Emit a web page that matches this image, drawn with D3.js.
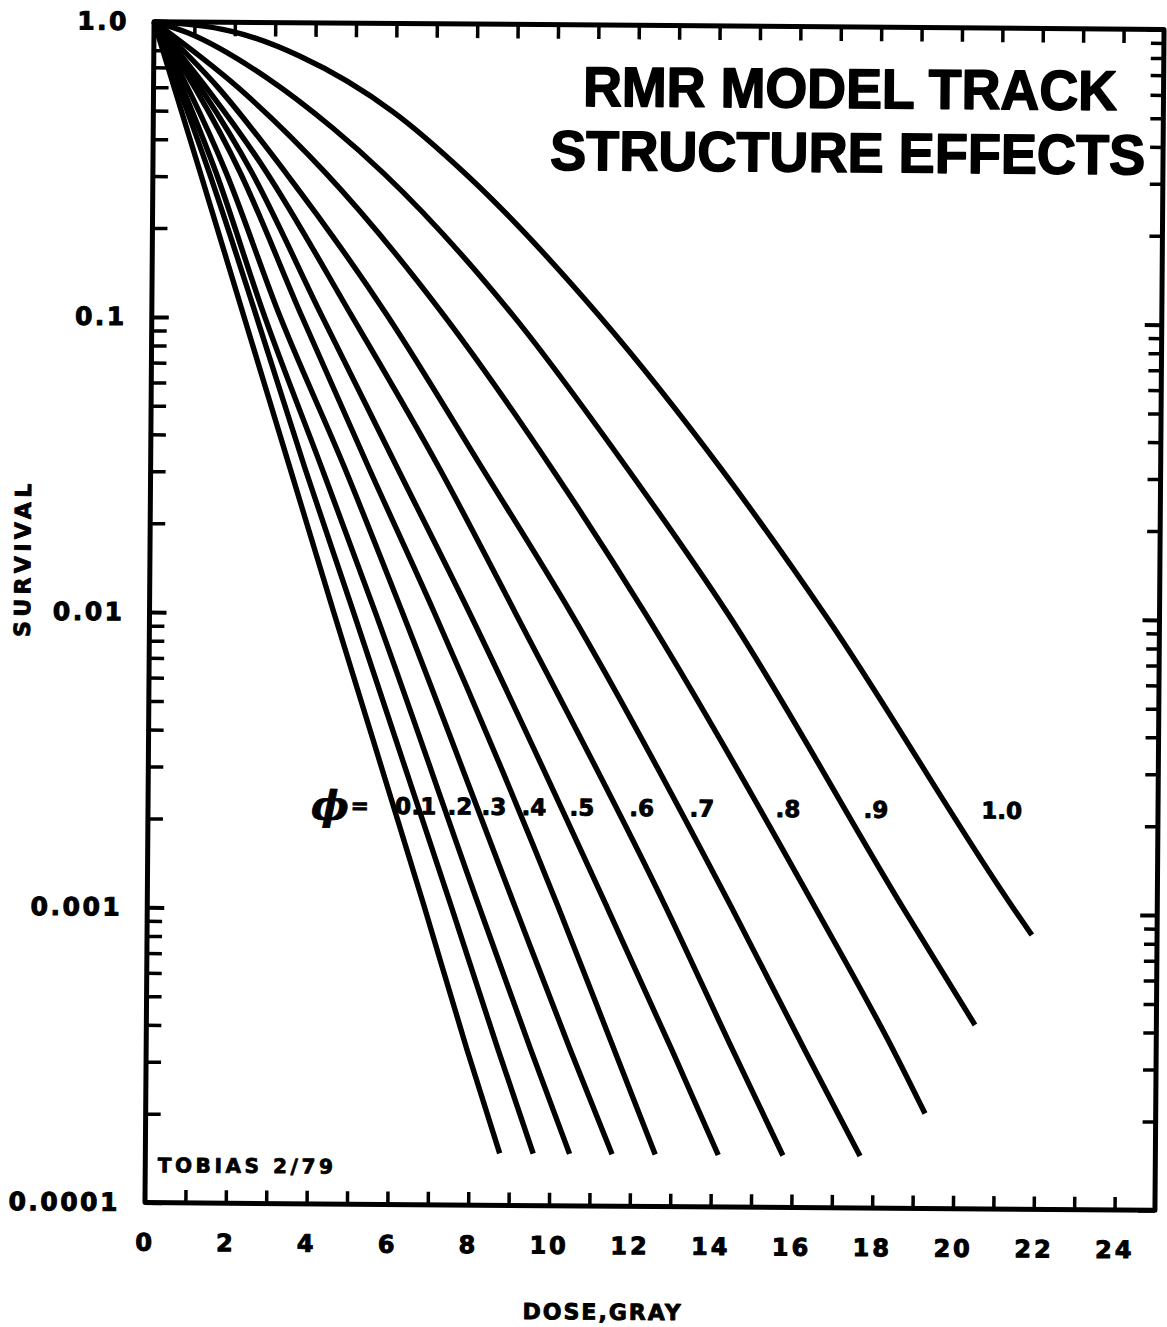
<!DOCTYPE html>
<html>
<head>
<meta charset="utf-8">
<script src="https://cdn.jsdelivr.net/npm/d3@7"></script>
<style>
  body { margin: 0; background: #fff; }
  svg { display: block; }
</style>
</head>
<body>
<svg id="chart" width="1167" height="1327"></svg>
<script>
// Survival curves, [dose in Gy, surviving fraction], one array per phi value
const phi00 = [[0,1],[1.17,0.31],[2.26,0.103],[3.45,0.031],[4.55,0.0102],[6.85,0.00103],[7.93,3.4e-4],[8.77,1.5e-4]];
const phi01 = [[0,1],[1.39,0.31],[2.57,0.103],[3.82,0.031],[5.04,0.0102],[7.52,0.00103],[8.70,3.4e-4],[9.60,1.5e-4]];
const phi02 = [[0,1],[1.56,0.31],[2.77,0.103],[4.24,0.031],[5.58,0.0102],[8.21,0.00103],[9.51,3.4e-4],[10.50,1.5e-4]];
const phi03 = [[0,1],[1.81,0.31],[3.15,0.103],[4.81,0.031],[6.25,0.0102],[9.10,0.00103],[10.49,3.4e-4],[11.55,1.5e-4]];
const phi04 = [[0,1],[2.16,0.31],[3.69,0.103],[5.41,0.031],[7.04,0.0102],[10.17,0.00103],[11.58,3.4e-4],[12.62,1.5e-4]];
const phi05 = [[0,1],[2.45,0.31],[4.19,0.103],[6.12,0.031],[7.91,0.0102],[11.38,0.00103],[13.01,3.4e-4],[14.18,1.5e-4]];
const phi06 = [[0,1],[2.82,0.31],[4.93,0.103],[7.16,0.031],[9.05,0.0102],[12.84,0.00103],[14.52,3.4e-4],[15.78,1.5e-4]];
const phi07 = [[0,1],[1.6,0.6],[3.29,0.31],[5.82,0.103],[8.23,0.031],[10.43,0.0102],[14.47,0.00103],[16.31,3.4e-4],[17.69,1.5e-4]];
const phi08 = [[0,1],[2.1,0.6],[4.28,0.31],[7.23,0.103],[9.96,0.031],[12.27,0.0102],[16.55,0.00103],[18.51,3.4e-4],[19.29,2.1e-4]];
const phi09 = [[0,1],[0.82,0.92],[2.80,0.65],[4.45,0.44],[5.72,0.31],[8.95,0.103],[11.84,0.031],[14.32,0.0102],[18.73,0.00103],[20.51,4.2e-4]];
const phi10 = [[0,1],[1.95,0.93],[3.62,0.77],[5.95,0.50],[7.75,0.31],[11.09,0.103],[14.17,0.031],[16.72,0.0102],[21.43,0.00105],[21.9,8.5e-4]];

const curveSeries = [phi00, phi01, phi02, phi03, phi04, phi05, phi06, phi07, phi08, phi09, phi10];

// Curve labels and the dose at which each one sits along the label row
const phiLabels = ["0", ".1", ".2", ".3", ".4", ".5", ".6", ".7", ".8", ".9", "1.0"];
const phiLabelDose = [6.31, 6.83, 7.72, 8.56, 9.55, 10.74, 12.22, 13.71, 15.84, 18.02, 21.13];
const phiLabelSurvival = 0.00224;

// Axis ticks and labels
const xLabelValues = [0, 2, 4, 6, 8, 10, 12, 14, 16, 18, 20, 22, 24];
const xLabelText = ["0", "2", "4", "6", "8", "10", "12", "14", "16", "18", "20", "22", "24"];
const xMinorTicks = d3.range(1, 25);
const yTickValues = [1, 0.1, 0.01, 0.001, 0.0001];
const yTickLabels = ["1.0", "0.1", "0.01", "0.001", "0.0001"];

const titleLines = ["RMR MODEL TRACK", "STRUCTURE EFFECTS"];
const xTitle = "DOSE,GRAY";
const yTitle = "SURVIVAL";
const credit = "TOBIAS 2/79";

// Plot frame
const frameLeft = 149.5, frameRight = 1159.5, frameTop = 25.5, frameBottom = 1206.5;
const x = d3.scaleLinear().domain([0, 25]).range([frameLeft, frameRight]);
const y = d3.scaleLog().domain([1e-4, 1]).range([frameBottom, frameTop]);

const svg = d3.select("#chart");
svg.append("rect").attr("width", 1167).attr("height", 1327).attr("fill", "#fff");

// the printed page sits very slightly askew
const g = svg.append("g").attr("transform", "rotate(0.44, 654.5, 616)");

const boldFont = "'DejaVu Sans', 'Liberation Sans', sans-serif";

// heavy lettering: bold face with a thin outline of the same colour
function heavy(sel, outline) {
  sel.attr("font-family", boldFont)
    .attr("font-weight", "bold")
    .attr("fill", "#000")
    .attr("stroke", "#000")
    .attr("stroke-width", outline)
    .attr("stroke-linejoin", "round");
}

// ---- curves ----
const line = d3.line()
  .x(d => x(d[0]))
  .y(d => y(d[1]))
  .curve(d3.curveMonotoneX);

g.append("g")
  .selectAll("path")
  .data(curveSeries)
  .join("path")
  .attr("d", line)
  .attr("fill", "none")
  .attr("stroke", "#000")
  .attr("stroke-width", 5.4)
  .attr("stroke-linecap", "butt")
  .attr("stroke-linejoin", "round");

// ---- tick marks (all point inward) ----
function styleTicks(sel, width) {
  sel.select(".domain").remove();
  sel.selectAll(".tick line").attr("stroke", "#000").attr("stroke-width", width);
  sel.selectAll(".tick text").remove();
}

const yMinor = y.ticks().filter(v => yTickValues.indexOf(v) < 0);

g.append("g").attr("transform", `translate(0,${frameBottom})`)
  .call(d3.axisBottom(x).tickValues(xMinorTicks).tickSize(-13))
  .call(s => styleTicks(s, 3.5));
g.append("g").attr("transform", `translate(0,${frameTop})`)
  .call(d3.axisTop(x).tickValues(xMinorTicks).tickSize(-14))
  .call(s => styleTicks(s, 3.5));
g.append("g").attr("transform", `translate(${frameLeft},0)`)
  .call(d3.axisLeft(y).tickValues(yMinor).tickSize(-15))
  .call(s => styleTicks(s, 3.5));
g.append("g").attr("transform", `translate(${frameLeft},0)`)
  .call(d3.axisLeft(y).tickValues(yTickValues).tickSize(-17))
  .call(s => styleTicks(s, 4));
g.append("g").attr("transform", `translate(${frameRight},0)`)
  .call(d3.axisRight(y).tickValues(yMinor).tickSize(-13))
  .call(s => styleTicks(s, 3.5));
g.append("g").attr("transform", `translate(${frameRight},0)`)
  .call(d3.axisRight(y).tickValues(yTickValues).tickSize(-17))
  .call(s => styleTicks(s, 4));

// ---- frame ----
g.append("rect")
  .attr("x", frameLeft).attr("y", frameTop)
  .attr("width", frameRight - frameLeft).attr("height", frameBottom - frameTop)
  .attr("fill", "none")
  .attr("stroke", "#000")
  .attr("stroke-width", 5)
  .attr("stroke-linejoin", "round");

// ---- tick labels ----
const xLabels = g.append("g").attr("transform", `translate(0,${frameBottom})`)
  .call(d3.axisBottom(x).tickValues(xLabelValues)
    .tickFormat((d, i) => xLabelText[i]).tickSize(0).tickPadding(31));
xLabels.select(".domain").remove();
xLabels.selectAll("text")
  .call(heavy, 1)
  .attr("font-size", 24)
  .attr("letter-spacing", 3);

const yLabels = g.append("g").attr("transform", `translate(${frameLeft},0)`)
  .call(d3.axisLeft(y).tickValues(yTickValues)
    .tickFormat((d, i) => yTickLabels[i]).tickSize(0).tickPadding(25));
yLabels.select(".domain").remove();
yLabels.selectAll("text")
  .call(heavy, 1)
  .attr("font-size", 25)
  .attr("letter-spacing", 2.5);

// ---- axis titles ----
g.append("text")
  .attr("x", 608).attr("y", 1320)
  .attr("text-anchor", "middle")
  .call(heavy, 0.9)
  .attr("font-size", 22)
  .attr("letter-spacing", 2)
  .text(xTitle);

g.append("text")
  .attr("transform", "translate(30,563) rotate(-90)")
  .attr("text-anchor", "middle")
  .call(heavy, 0.9)
  .attr("font-size", 22)
  .attr("letter-spacing", 4.4)
  .text(yTitle);

// ---- chart title ----
const titleSpec = [
  { x: 579, y: 106.5, len: 534 },
  { x: 546.6, y: 170.5, len: 595 }
];
g.append("g").selectAll("text")
  .data(titleLines)
  .join("text")
  .attr("x", (d, i) => titleSpec[i].x)
  .attr("y", (d, i) => titleSpec[i].y)
  .attr("textLength", (d, i) => titleSpec[i].len)
  .attr("lengthAdjust", "spacingAndGlyphs")
  .call(heavy, 1.6)
  .attr("font-family", "'Liberation Sans', Arial, sans-serif")
  .attr("font-size", 56)
  .text(d => d);

// ---- credit ----
g.append("text")
  .attr("x", 162).attr("y", 1176)
  .call(heavy, 0.8)
  .attr("font-size", 20)
  .attr("letter-spacing", 3.6)
  .text(credit);

// ---- phi labels ----
const labelY = y(phiLabelSurvival);
g.append("text")
  .attr("x", x(4.5)).attr("y", labelY)
  .attr("dy", "0.35em")
  .attr("text-anchor", "middle")
  .call(heavy, 0.8)
  .attr("font-family", "'DejaVu Serif', serif")
  .attr("font-style", "italic")
  .attr("font-size", 40)
  .text("\u03D5");
g.append("text")
  .attr("x", x(5.24)).attr("y", labelY)
  .attr("dy", "0.35em")
  .attr("text-anchor", "middle")
  .call(heavy, 0.8)
  .attr("font-size", 22)
  .text("=");

g.append("g").selectAll("text")
  .data(phiLabels)
  .join("text")
  .attr("x", (d, i) => x(phiLabelDose[i]))
  .attr("y", labelY)
  .attr("dy", "0.36em")
  .attr("text-anchor", "middle")
  .call(heavy, 0.9)
  .attr("font-size", 23)
  .text(d => d);
</script>
</body>
</html>
